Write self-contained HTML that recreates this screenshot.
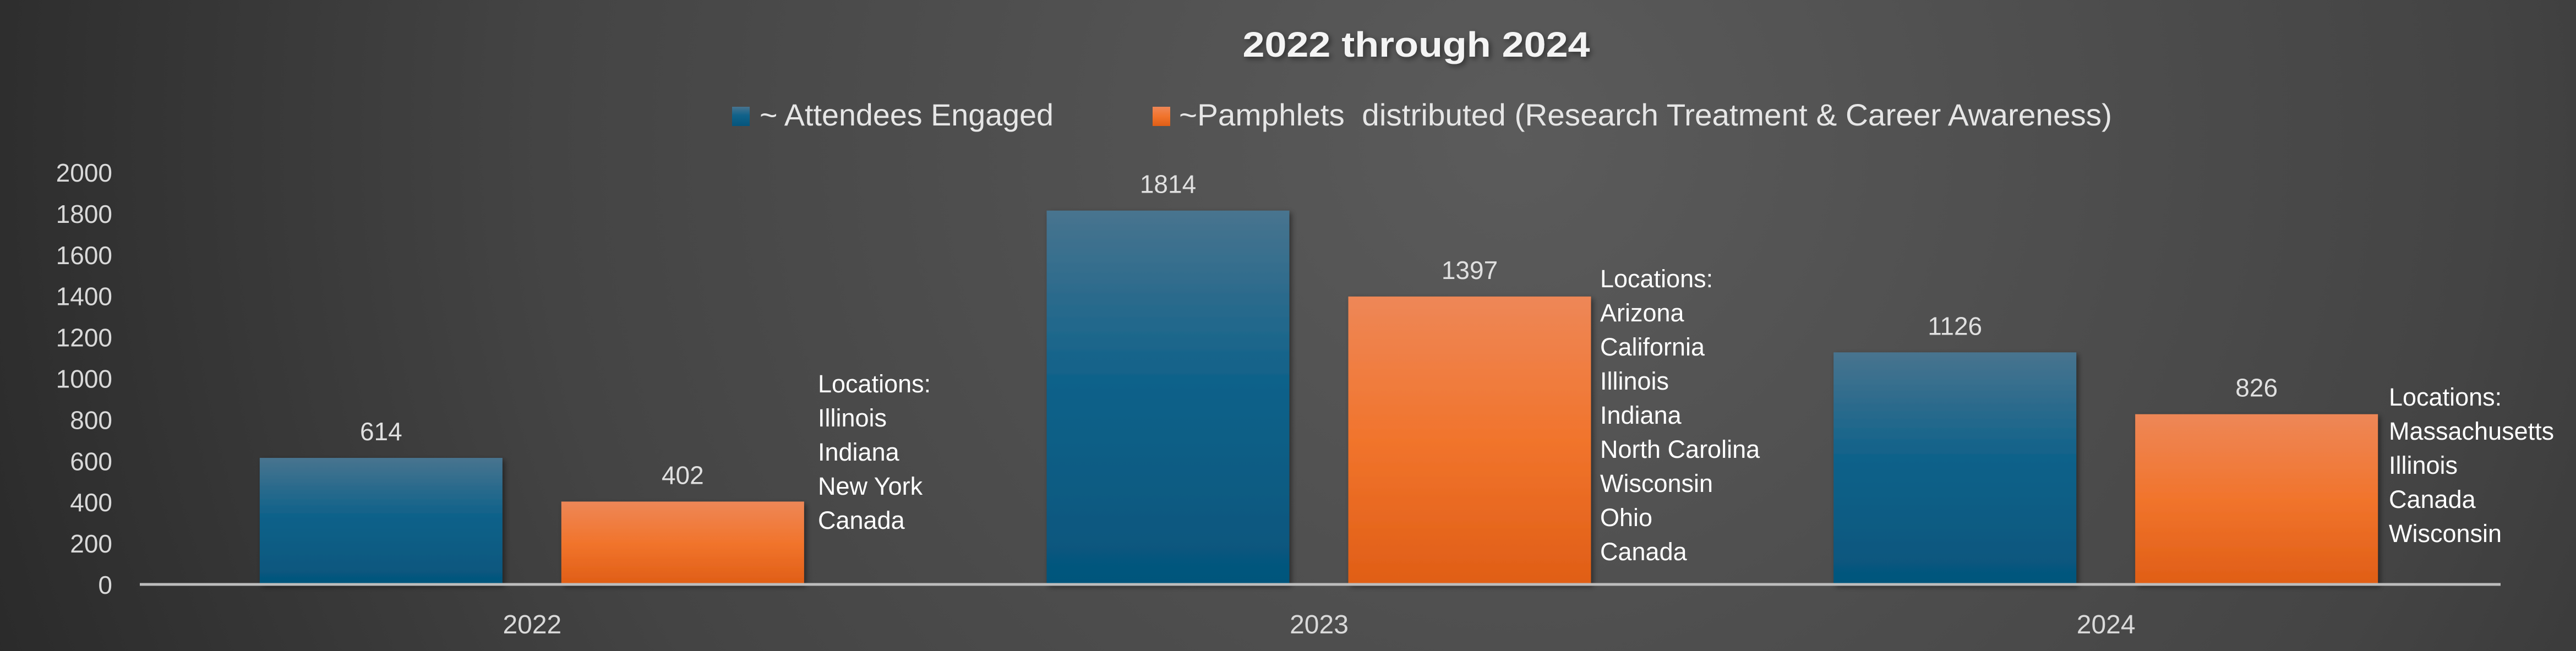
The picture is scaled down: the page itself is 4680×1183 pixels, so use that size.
<!DOCTYPE html>
<html><head><meta charset="utf-8"><style>
html,body{margin:0;padding:0;width:4680px;height:1183px;overflow:hidden;}
svg{display:block;font-family:"Liberation Sans Narrow","Liberation Sans",sans-serif;}
</style></head><body>
<svg id="chart" width="4680" height="1183" viewBox="0 0 4680 1183" xmlns="http://www.w3.org/2000/svg">
<defs>
<radialGradient id="bg" cx="2750" cy="250" r="3200" gradientUnits="userSpaceOnUse">
<stop offset="0" stop-color="#5b5b5b"/><stop offset="0.55" stop-color="#444"/><stop offset="1" stop-color="#242424"/>
</radialGradient>
<linearGradient id="gb" x1="0" y1="0" x2="0" y2="1"><stop offset="0" stop-color="#48748f"/><stop offset="0.45" stop-color="#10628a"/><stop offset="1" stop-color="#05557c"/></linearGradient>
<linearGradient id="go" x1="0" y1="0" x2="0" y2="1"><stop offset="0" stop-color="#ee8757"/><stop offset="0.5" stop-color="#f1742c"/><stop offset="1" stop-color="#e05e16"/></linearGradient>
<filter id="sh" x="-10%" y="-10%" width="130%" height="130%"><feDropShadow dx="4" dy="4" stdDeviation="5" flood-color="#000" flood-opacity="0.45"/></filter>
</defs>
<rect width="4680" height="1183" fill="url(#bg)"/>
<text x="2573" y="103" text-anchor="middle" font-size="64" font-weight="bold" fill="#f4f4f4" textLength="631" lengthAdjust="spacingAndGlyphs" filter="url(#sh)">2022 through 2024</text>
<g>
<rect x="1330" y="194" width="32" height="35" fill="url(#gb)"/>
<text x="1380" y="228" font-size="56" fill="#e6e6e6" textLength="534" lengthAdjust="spacingAndGlyphs">~ Attendees Engaged</text>
<rect x="2094" y="194" width="32" height="35" fill="url(#go)"/>
<text x="2142" y="228" font-size="56" fill="#e6e6e6" textLength="1695" lengthAdjust="spacingAndGlyphs" xml:space="preserve">~Pamphlets  distributed (Research Treatment &amp; Career Awareness)</text>
</g>
<g id="yaxis"></g>
<g id="bars"></g>
<line x1="254" y1="1062" x2="4543" y2="1062" stroke="#bdbdbd" stroke-width="5"/>
<g id="xaxis"></g>
<g id="locs"></g>
</svg>
<script>
const categories = ["2022","2023","2024"];
const attendees = [614,1814,1126];
const pamphlets = [402,1397,826];
const yTicks = [0,200,400,600,800,1000,1200,1400,1600,1800,2000];
const locations2022 = ["Locations:","Illinois","Indiana","New York","Canada"];
const locations2023 = ["Locations:","Arizona","California","Illinois","Indiana","North Carolina","Wisconsin","Ohio","Canada"];
const locations2024 = ["Locations:","Massachusetts","Illinois","Canada","Wisconsin"];

const NS="http://www.w3.org/2000/svg";
const x0=254,x1=4543,y0=1062,yTop=313,yMax=2000;
const yS=v=>y0-(y0-yTop)*v/yMax;
const band=(x1-x0)/categories.length;
const bw=441;
function mk(tag,attrs,parent,txt){const e=document.createElementNS(NS,tag);for(const k in attrs)e.setAttribute(k,attrs[k]);if(txt!==undefined)e.textContent=txt;parent.appendChild(e);return e;}
const ya=document.getElementById('yaxis');
yTicks.forEach(t=>{const e=mk('text',{x:204,y:yS(t)+17,'text-anchor':'end','font-size':46,fill:'#d9d9d9'},ya,String(t));

});
const bars=document.getElementById('bars'),xa=document.getElementById('xaxis');
categories.forEach((c,i)=>{
 const cx=x0+band*i+band/2;
 const bx=cx-497, ox=cx+51;
 const series=[[attendees[i],bx,'url(#gb)','attendees'],[pamphlets[i],ox,'url(#go)','pamphlets']];
 series.forEach(([v,x,f,n])=>{
  const r=mk('rect',{x:x,y:yS(v),width:bw,height:y0-yS(v),fill:f,filter:'url(#sh)'},bars);
  
  
  const l=mk('text',{x:x+bw/2,y:yS(v)-32,'text-anchor':'middle','font-size':46,fill:'#e0e0e0'},bars,String(v));
  
  
 });
 const t=mk('text',{x:cx-2,y:1151,'text-anchor':'middle','font-size':48,fill:'#d9d9d9'},xa,c);
 
 
});
const lg=document.getElementById('locs');
[[locations2022,1486,713],[locations2023,2907,522],[locations2024,4340,737]].forEach(([arr,x,y],k)=>{
 arr.forEach((s,j)=>{const e=mk('text',{x:x,y:y+62*j,'font-size':45,fill:'#ffffff'},lg,s);
 
 });
});
</script>
</body></html>
